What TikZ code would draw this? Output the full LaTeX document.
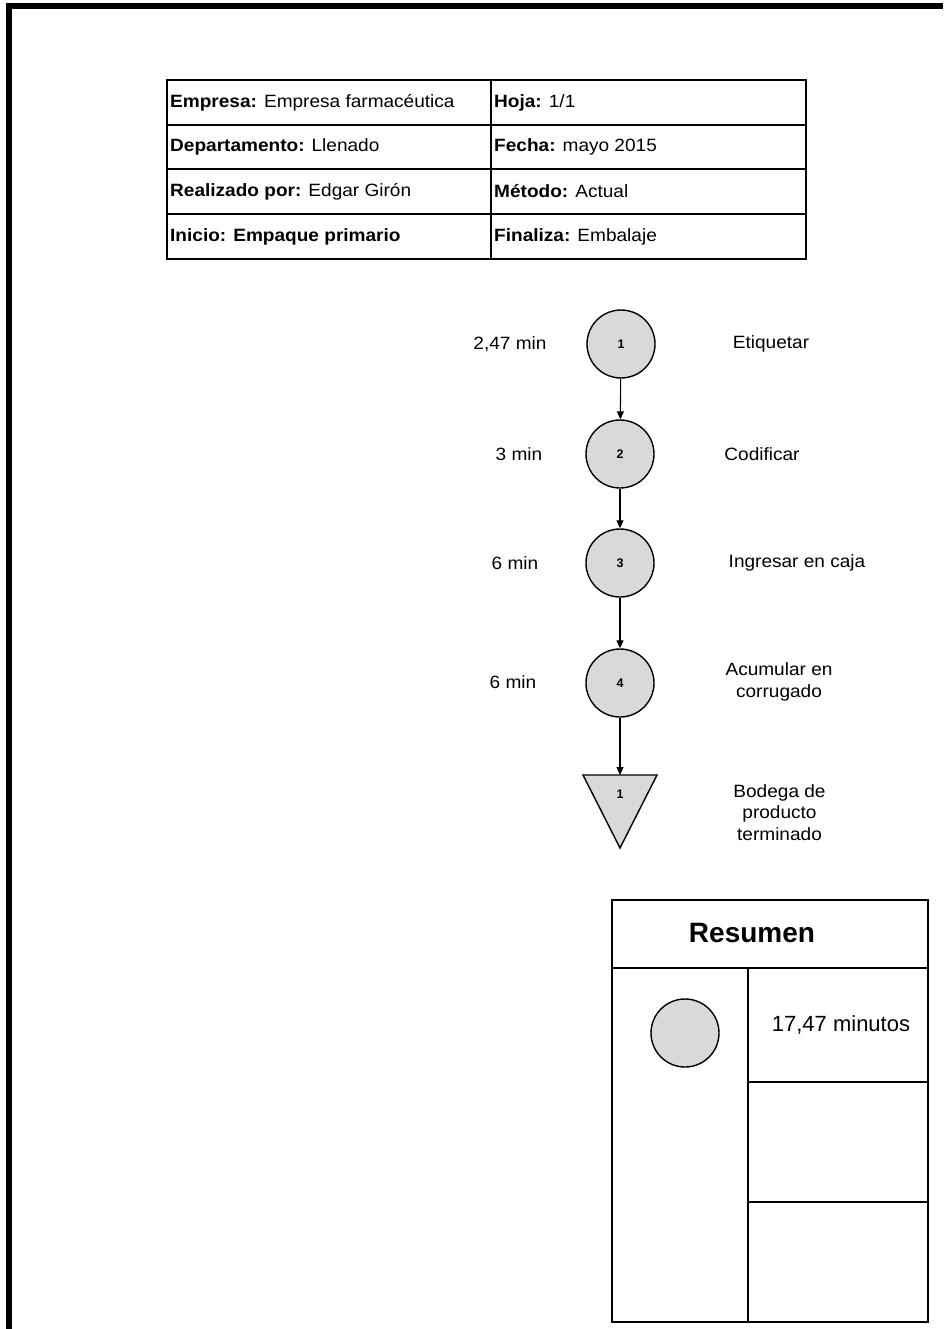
\documentclass[tikz,border=0pt]{standalone}
\usepackage{fontspec}
\setmainfont{Liberation Sans}
\newfontfamily\widefont{Liberation Sans}[FakeStretch=1.07]
\usetikzlibrary{arrows.meta}
\definecolor{opfill}{HTML}{D9D9D9}
\begin{document}
\begin{tikzpicture}[x=1pt,y=-1pt,
  lbl/.style={inner sep=0pt, align=center, font=\widefont\fontsize{17.8}{21.5}\selectfont},
  cell/.style={lbl, anchor=west},
  numfont/.style={font=\bfseries\fontsize{12.5}{14}\selectfont},
  op/.style={circle, draw, fill=opfill, line width=1.4pt, minimum size=68pt, inner sep=0pt, numfont},
  arr/.style={-{Triangle[length=8pt,width=7pt]}, line width=1.1pt},
  gridline/.style={line width=1.1pt}]
\useasboundingbox (0,0) rectangle (943,1329);
% page frame
\draw[line width=6pt] (9,1329) -- (9,6) -- (943,6);
% header table
\draw[gridline] (167,80) rectangle (806,259);
\draw[gridline] (491,80) -- (491,259);
\foreach \yy in {125,169,214} \draw[gridline] (167,\yy) -- (806,\yy);
\node[cell] (h1) at (170,102.5) {\textbf{Empresa:} Empresa farmacéutica};
\node[cell] (h2) at (494,102.5) {\textbf{Hoja:} 1/1};
\node[cell] (h3) at (170,147) {\textbf{Departamento:} Llenado};
\node[cell] (h4) at (494,147) {\textbf{Fecha:} mayo 2015};
\node[cell] (h5) at (170,191.5) {\textbf{Realizado por:} Edgar Girón};
\node[cell] (h6) at (494,191.5) {\textbf{Método:} Actual};
\node[cell] (h7) at (170,236.5) {\textbf{Inicio: Empaque primario}};
\node[cell] (h8) at (494,236.5) {\textbf{Finaliza:} Embalaje};
% operations
\node[op] (c1) at (621,344) {1};
\node[op] (c2) at (620,454) {2};
\node[op] (c3) at (620,563) {3};
\node[op] (c4) at (620,683) {4};
\draw[fill=opfill, line width=1.4pt] (583,775) -- (657,775) -- (620,848) -- cycle;
\coordinate (ttop) at (620,775);
\node[numfont, inner sep=0pt] (s1) at (620,794) {1};
\draw[arr] (c1) -- (c2);
\draw[arr] (c2) -- (c3);
\draw[arr] (c3) -- (c4);
\draw[arr] (c4) -- (ttop);
% times
\node[lbl] (t1) at (510,344) {2,47 min};
\node[lbl] (t2) at (519,454) {3 min};
\node[lbl] (t3) at (515,563) {6 min};
\node[lbl] (t4) at (513,682) {6 min};
% descriptions
\node[lbl] (d1) at (771,344) {Etiquetar};
\node[lbl] (d2) at (762,454) {Codificar};
\node[lbl] (d3) at (797,563) {Ingresar en caja};
\node[lbl] (d4) at (779,682) {Acumular en\\corrugado};
\node[lbl] (d5) at (779.5,812.5) {Bodega de\\producto\\terminado};
% summary
\draw[gridline] (612,900) rectangle (928,1322);
\draw[gridline] (612,968) -- (928,968);
\draw[gridline] (748,968) -- (748,1322);
\draw[gridline] (748,1082) -- (928,1082);
\draw[gridline] (748,1202) -- (928,1202);
\node[inner sep=0pt, font=\bfseries\fontsize{28}{32}\selectfont] (res) at (752,933) {Resumen};
\node[op] (sc) at (685,1033) {};
\node[inner sep=0pt, font=\fontsize{22}{26}\selectfont] (tot) at (841,1025) {17,47 minutos};
\end{tikzpicture}
\end{document}
